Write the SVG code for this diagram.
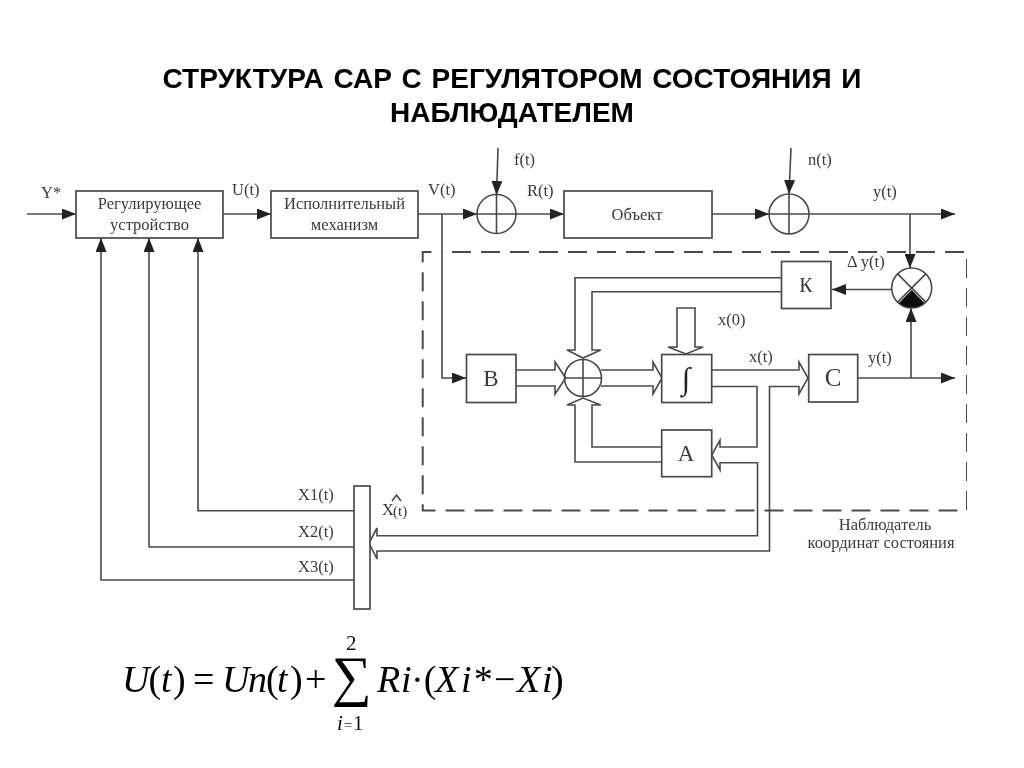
<svg xmlns="http://www.w3.org/2000/svg" width="1024" height="768" viewBox="0 0 1024 768">
<style>
text{font-family:"Liberation Serif","Times New Roman",serif;fill:#3a3a3a}
.t{font-family:"Liberation Sans",Arial,sans-serif;font-weight:bold;font-size:28px;fill:#000;word-spacing:2px;text-anchor:middle}
.l{font-size:16.500px}
.c{text-anchor:middle}
.big{font-size:23px}
.m{font-size:38px;fill:#000}
.i{font-style:italic}
.s{font-size:21px;fill:#111}
.b{fill:#fff;stroke:#4a4a4a;stroke-width:1.7}
.w{fill:none;stroke:#4a4a4a;stroke-width:1.6}
.dash{fill:none;stroke:#4a4a4a;stroke-width:2;stroke-dasharray:19 10}
.a{fill:none;stroke:#4a4a4a;stroke-width:1.6;marker-end:url(#arr)}
</style>
<defs>
<marker id="arr" viewBox="0 0 14 11" refX="14" refY="5.500" markerWidth="14" markerHeight="11" markerUnits="userSpaceOnUse" orient="auto"><path d="M0 0L14 5.500L0 11Z" fill="#222"/></marker>
<filter id="soft" x="0" y="0" width="100%" height="100%"><feGaussianBlur stdDeviation="0.4"/></filter>
</defs>
<rect width="1024" height="768" fill="#fff"/>
<g id="diagram" filter="url(#soft)">
<text class="t" x="512" y="88">СТРУКТУРА САР С РЕГУЛЯТОРОМ СОСТОЯНИЯ И</text>
<text class="t" x="512" y="122">НАБЛЮДАТЕЛЕМ</text>

<g id="connectors">
<path class="dash" d="M452 252H967V510.500H422.700V252H442"/>
<path class="a" d="M27 214H76"/>
<path class="a" d="M223 214H271"/>
<path class="a" d="M418 214H477"/>
<path class="a" d="M498 148L496.500 195"/>
<path class="a" d="M515 214H564"/>
<path class="a" d="M712 214H769"/>
<path class="a" d="M791 148L789 194"/>
<path class="a" d="M809 214H955"/>
<path class="a" d="M910 214V268"/>
<path class="a" d="M442 214V378H466"/>
<path class="a" d="M892 289.500H832"/>
<path class="a" d="M858 378H955"/>
<path class="a" d="M911 378V308"/>
<path class="a" d="M354 510.700H198V238"/>
<path class="a" d="M354 547H149V238"/>
<path class="a" d="M354 580H101V238"/>
<path class="w" d="M516 370H555V362L565.700 378L555 394V386H516"/>
<path class="w" d="M601 370H653V362L662 378L653 394V386H601"/>
<path class="w" d="M781 277.700H575V350H567L583 358L600.700 350H592V291.700H781"/>
<path class="w" d="M661 462H575V405H567L583 398L600.700 405H592V447H661"/>
<path class="w" d="M677 347V308H695V347H703L686 354L668 347Z"/>
<path class="w" d="M712 370H799V362L808 378L799 394V386.500H769.500V551H377V559L369 543L377 528V535.700H757.500V462.700H720V470L711.700 455L720 440V447H757V386.500H712"/>
</g>

<g id="node-regulator"><rect class="b" x="76" y="191" width="147" height="47"/><text class="l c" x="149.500" y="209">Регулирующее</text><text class="l c" x="149.500" y="230">устройство</text></g>
<g id="node-actuator"><rect class="b" x="271" y="191" width="147" height="47"/><text class="l c" x="344.500" y="209">Исполнительный</text><text class="l c" x="344.500" y="230">механизм</text></g>
<g id="node-object"><rect class="b" x="564" y="191" width="148" height="47"/><text class="l c" x="637" y="220">Объект</text></g>
<g id="node-sum1"><circle class="w" cx="496.500" cy="214" r="19.500"/><path class="w" d="M496.500 194.500V233.500M477 214H516"/></g>
<g id="node-sum2"><circle class="w" cx="789" cy="214" r="20"/><path class="w" d="M789 194V234M769 214H809"/></g>
<g id="node-comparator"><circle class="w" cx="911.700" cy="288" r="20"/><path class="w" d="M897.600 273.900L925.800 302.100M925.800 273.900L897.600 302.100"/><path d="M911.700 290L899 303A20 20 0 0 0 924.400 303Z" fill="#111"/></g>
<g id="node-k"><rect class="b" x="781.500" y="261.500" width="49.500" height="47"/><text class="c" x="806" y="292" style="font-size:20px">К</text></g>
<g id="node-b"><rect class="b" x="466.500" y="354.500" width="49.500" height="48"/><text class="big c" x="491" y="386">В</text></g>
<g id="node-sum3"><circle class="w" cx="583" cy="378" r="18.500"/><path class="w" d="M583 359.500V396.500M564.500 378H601.500"/></g>
<g id="node-int"><rect class="b" x="661.700" y="354.500" width="50" height="48"/><text class="c" x="686" y="389" style="font-size:31px;fill:#222">∫</text></g>
<g id="node-a"><rect class="b" x="661.700" y="430" width="50" height="46.700"/><text class="big c" x="686" y="461">А</text></g>
<g id="node-c"><rect class="b" x="808.700" y="354.500" width="49" height="47.500"/><text class="c" x="833" y="386" style="font-size:25px">С</text></g>
<g id="node-bus"><rect class="b" x="354" y="486" width="16" height="123"/></g>

<g id="labels">
<text class="l" x="41" y="198">Y*</text>
<text class="l" x="232" y="195">U(t)</text>
<text class="l" x="428" y="195">V(t)</text>
<text class="l" x="514" y="165">f(t)</text>
<text class="l" x="527" y="196">R(t)</text>
<text class="l" x="808" y="165">n(t)</text>
<text class="l" x="873" y="197">y(t)</text>
<text class="l" x="847" y="267">Δ y(t)</text>
<text class="l" x="718" y="325">x(0)</text>
<text class="l" x="749" y="362">x(t)</text>
<text class="l" x="868" y="363">y(t)</text>
<text class="l" x="298" y="500">X1(t)</text>
<text class="l" x="298" y="537">X2(t)</text>
<text class="l" x="298" y="572">X3(t)</text>
<text class="l" x="382" y="515">X</text>
<text x="393" y="516" style="font-size:15px">(t)</text>
<path class="w" d="M392 501L396.500 495L401 501"/>
<text class="l c" x="885" y="530">Наблюдатель</text>
<text class="l c" x="881" y="548">координат состояния</text>
</g>

<g id="formula">
<text class="m i" x="122" y="692">U</text>
<text class="m" x="148.500" y="692">(</text>
<text class="m i" x="161" y="692">t</text>
<text class="m" x="173" y="692">)</text>
<text class="m" x="193" y="692">=</text>
<text class="m i" x="222" y="692">U</text>
<text class="m i" x="248" y="692">n</text>
<text class="m" x="266" y="692">(</text>
<text class="m i" x="277" y="692">t</text>
<text class="m" x="290" y="692">)</text>
<text class="m" x="305" y="692">+</text>
<text class="c" x="351.500" y="694.500" style="font-size:56px;fill:#000">∑</text>
<text class="m i" x="377" y="692">R</text>
<text class="m i" x="401" y="692">i</text>
<text class="m" x="411" y="692">·(</text>
<text class="m i" x="435" y="692">X</text>
<text class="m i" x="461" y="692">i</text>
<text class="m i" x="472" y="692">*</text>
<text class="m" x="494" y="692">−</text>
<text class="m i" x="517" y="692">X</text>
<text class="m i" x="542" y="692">i</text>
<text class="m" x="551" y="692">)</text>
<text class="s" x="346" y="650">2</text>
<text class="s i" x="337" y="730">i</text>
<text class="s" x="344" y="730" style="font-size:15px">=</text>
<text class="s" x="353" y="730">1</text>
</g>
</g>
</svg>
